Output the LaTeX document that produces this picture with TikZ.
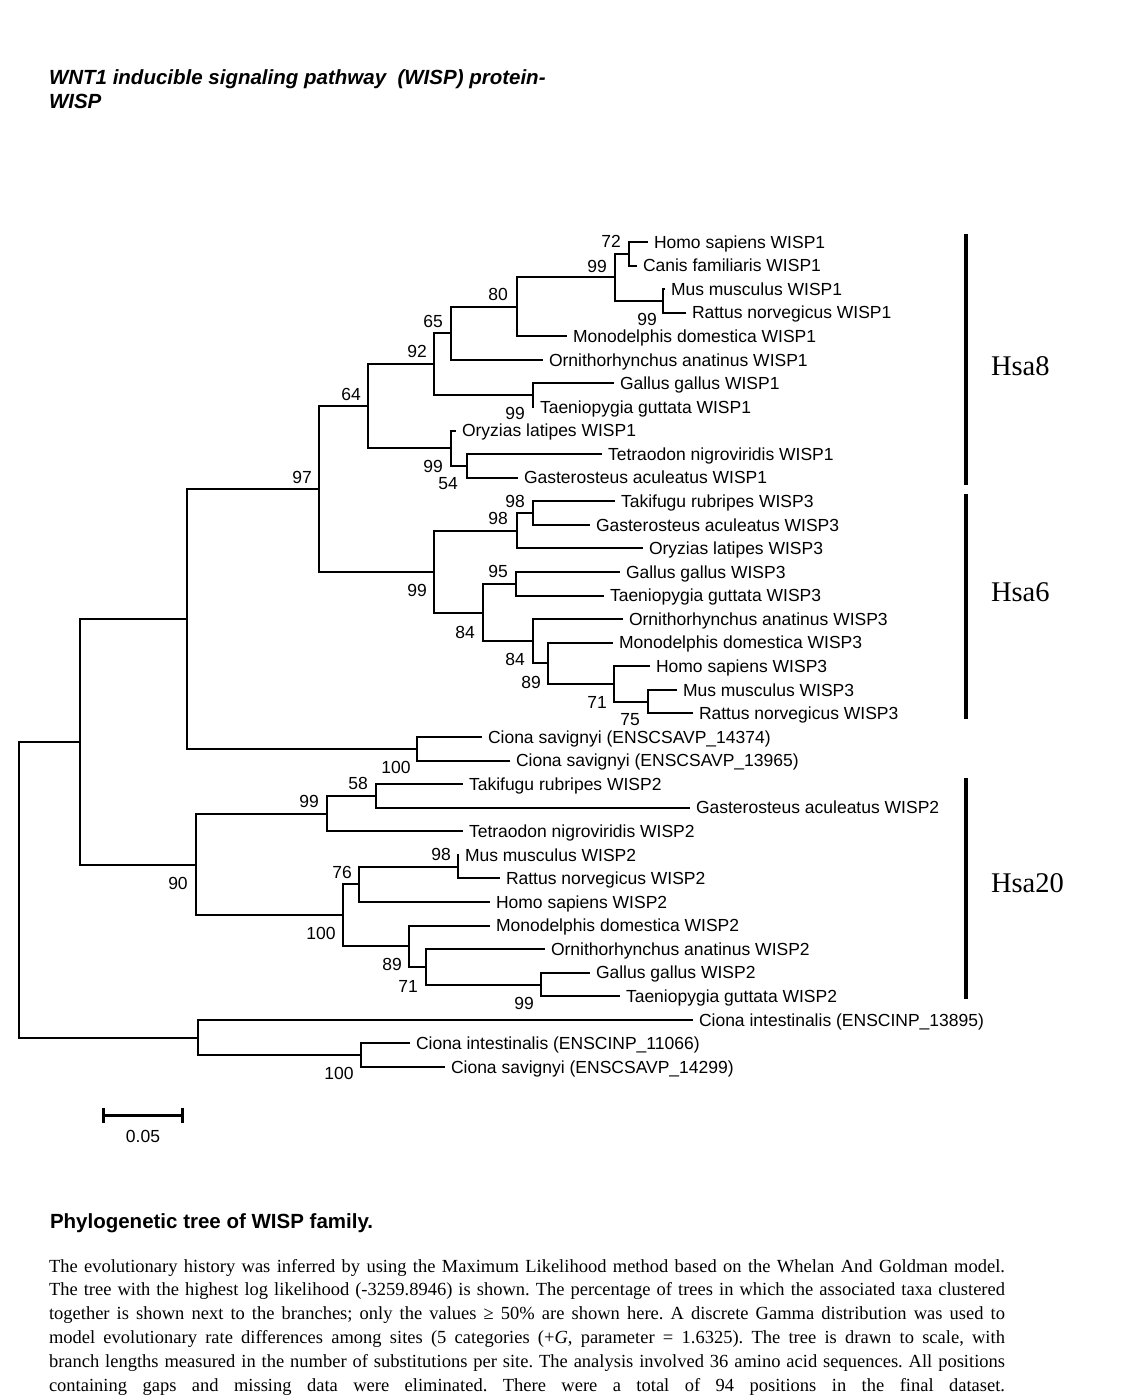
\documentclass[tikz,border=0pt]{standalone}
\usepackage{fontspec}
\setmainfont{Liberation Serif}
\setsansfont{Liberation Sans}
\usetikzlibrary{positioning}
\frenchspacing
\begin{document}
\begin{tikzpicture}[x=1pt, y=-1pt, line width=2pt,
    taxon/.style={font=\sffamily\fontsize{17.5}{20}\selectfont, inner sep=0pt, text height=12.5pt, text depth=0pt},
    boot/.style={font=\sffamily\fontsize{17.5}{20}\selectfont, inner sep=0pt, text height=12.5pt, text depth=0pt},
    hsa/.style={font=\fontsize{28.5}{30}\selectfont, inner sep=0pt, anchor=west, text height=18.9pt, text depth=0pt},
    para/.style={font=\fontsize{18.5}{22}\selectfont, inner sep=0pt, anchor=west, text height=12.2pt, text depth=0pt},
    head/.style={font=\sffamily\bfseries\fontsize{20.5}{24}\selectfont, inner sep=0pt, anchor=west, text height=14.7pt, text depth=0pt}]
    \useasboundingbox (0,0) rectangle (1133,1400);
    \node[head, font=\sffamily\bfseries\itshape\fontsize{20.5}{24}\selectfont] (title1) at (48,77) {WNT1 inducible signaling pathway\ \ (WISP) protein-};
    \node[head, font=\sffamily\bfseries\itshape\fontsize{20.5}{24}\selectfont] (title2) at (48,101) {WISP};
    \foreach \k/\t/\s in {0/648/Homo sapiens WISP1, 1/637/Canis familiaris WISP1, 2/665/Mus musculus WISP1,
        3/686/Rattus norvegicus WISP1, 4/567/Monodelphis domestica WISP1, 5/543/Ornithorhynchus anatinus WISP1,
        6/614/Gallus gallus WISP1, 7/534/Taeniopygia guttata WISP1, 8/456/Oryzias latipes WISP1,
        9/602/Tetraodon nigroviridis WISP1, 10/518/Gasterosteus aculeatus WISP1, 11/615/Takifugu rubripes WISP3,
        12/590/Gasterosteus aculeatus WISP3, 13/643/Oryzias latipes WISP3, 14/620/Gallus gallus WISP3,
        15/604/Taeniopygia guttata WISP3, 16/623/Ornithorhynchus anatinus WISP3, 17/613/Monodelphis domestica WISP3,
        18/650/Homo sapiens WISP3, 19/677/Mus musculus WISP3, 20/693/Rattus norvegicus WISP3,
        21/482/Ciona savignyi (ENSCSAVP\_14374), 22/510/Ciona savignyi (ENSCSAVP\_13965), 23/463/Takifugu rubripes WISP2,
        24/690/Gasterosteus aculeatus WISP2, 25/463/Tetraodon nigroviridis WISP2, 26/459/Mus musculus WISP2,
        27/500/Rattus norvegicus WISP2, 28/490/Homo sapiens WISP2, 29/490/Monodelphis domestica WISP2,
        30/545/Ornithorhynchus anatinus WISP2, 31/590/Gallus gallus WISP2, 32/620/Taeniopygia guttata WISP2,
        33/693/Ciona intestinalis (ENSCINP\_13895), 34/410/Ciona intestinalis (ENSCINP\_11066), 35/445/Ciona savignyi (ENSCSAVP\_14299)}
        {\coordinate (l\k) at (\t,{242+23.571*\k}); \node[taxon, right=5pt of l\k] (t\k) {\s};}
    \coordinate (nA) at (629,253.8); \coordinate (nB) at (663,300.9); \coordinate (nC) at (615,277.4);
    \coordinate (nD) at (517,306.8); \coordinate (nE) at (451,333.4); \coordinate (nF) at (533,395.2);
    \coordinate (nG) at (434,364.3); \coordinate (nH) at (467,465.9); \coordinate (nI) at (451,448.3);
    \coordinate (nJ) at (368,406.3); \coordinate (nK) at (533,513.1); \coordinate (nL) at (517,530.8);
    \coordinate (nM) at (516,583.8); \coordinate (nN) at (648,701.7); \coordinate (nO) at (614,684.0);
    \coordinate (nP) at (548,663.3); \coordinate (nQ) at (533,641.2); \coordinate (nR) at (483,612.5);
    \coordinate (nS) at (434,571.7); \coordinate (nT) at (319,489.0); \coordinate (nU) at (417,748.8);
    \coordinate (nV) at (187,618.9); \coordinate (nW) at (376,795.9); \coordinate (nX) at (327,813.6);
    \coordinate (nY) at (458,866.7); \coordinate (nZ) at (359,884.3); \coordinate (na) at (541,984.5);
    \coordinate (nb) at (426,966.8); \coordinate (nc) at (409,946.2); \coordinate (nd) at (343,915.3);
    \coordinate (ne) at (196,864.5); \coordinate (nf) at (80,741.7); \coordinate (ng) at (361,1055.2);
    \coordinate (nh) at (198,1037.6); \coordinate (nr) at (19,889.6);
    \foreach \p/\c in {nA/l0, nA/l1, nB/l2, nB/l3, nC/nA, nC/nB, nD/nC, nD/l4, nE/nD, nE/l5, nF/l6, nF/l7,
        nG/nE, nG/nF, nH/l9, nH/l10, nI/l8, nI/nH, nJ/nG, nJ/nI, nK/l11, nK/l12, nL/nK, nL/l13, nM/l14, nM/l15,
        nN/l19, nN/l20, nO/l18, nO/nN, nP/l17, nP/nO, nQ/l16, nQ/nP, nR/nM, nR/nQ, nS/nL, nS/nR, nT/nJ, nT/nS,
        nU/l21, nU/l22, nV/nT, nV/nU, nW/l23, nW/l24, nX/nW, nX/l25, nY/l26, nY/l27, nZ/nY, nZ/l28, na/l31, na/l32,
        nb/l30, nb/na, nc/l29, nc/nb, nd/nZ, nd/nc, ne/nX, ne/nd, nf/nV, nf/ne, ng/l34, ng/l35, nh/l33, nh/ng,
        nr/nf, nr/nh}
        \draw (\p) |- (\c);
    \foreach \v/\x/\y [count=\k] in {72/611/241, 99/597/266, 99/647/319, 80/498/294, 65/433/321, 92/417/351,
        64/351/394, 99/515/413, 97/302/477, 99/433/466, 54/448/483, 98/515/501, 98/498/518, 99/417/590,
        95/498/571, 84/465/632, 84/515/659, 89/531/682, 71/597/702, 75/630/719, 100/396/767, 58/358/783,
        99/309/801, 90/178/883, 98/441/854, 76/342/872, 100/321/933, 89/392/964, 71/408/986, 99/524/1003,
        100/339/1073}
        \node[boot] (b\k) at (\x,\y) {\v};
    \coordinate (h8a) at (966,234); \coordinate (h8b) at (966,485);
    \coordinate (h6a) at (966,494); \coordinate (h6b) at (966,719);
    \coordinate (h20a) at (966,778); \coordinate (h20b) at (966,999);
    \foreach \a/\b in {h8a/h8b, h6a/h6b, h20a/h20b} \draw[line width=4pt] (\a) -- (\b);
    \node[hsa] (hsa8) at (990,366) {Hsa8};
    \node[hsa] (hsa6) at (990,592) {Hsa6};
    \node[hsa] (hsa20) at (990,883) {Hsa20};
    \coordinate (s0) at (103,1115); \coordinate (s1) at (182,1115);
    \draw[line width=3pt] (s0) -- (s1);
    \foreach \p in {s0,s1} \draw[line width=3pt] ([yshift=7.5pt]\p) -- ([yshift=-7.5pt]\p);
    \node[boot] (scale) at (143,1136) {0.05};
    \node[head] (caption) at (49,1221) {Phylogenetic tree of WISP family.};
    \node[para] (p1) at (48,1266) {\makebox[956pt][s]{The evolutionary history was inferred by using the Maximum Likelihood method based on the Whelan And Goldman model.}};
    \node[para] (p2) at (48,1289) {\makebox[956pt][s]{The tree with the highest log likelihood (-3259.8946) is shown. The percentage of trees in which the associated taxa clustered}};
    \node[para] (p3) at (48,1313) {\makebox[956pt][s]{together is shown next to the branches; only the values ≥ 50\% are shown here. A discrete Gamma distribution was used to}};
    \node[para] (p4) at (48,1337) {\makebox[956pt][s]{model evolutionary rate differences among sites (5 categories (+\textit{G}, parameter = 1.6325). The tree is drawn to scale, with}};
    \node[para] (p5) at (48,1361) {\makebox[956pt][s]{branch lengths measured in the number of substitutions per site. The analysis involved 36 amino acid sequences. All positions}};
    \node[para] (p6) at (48,1385) {\makebox[956pt][s]{containing gaps and missing data were eliminated. There were a total of 94 positions in the final dataset.}};
\end{tikzpicture}
\end{document}
